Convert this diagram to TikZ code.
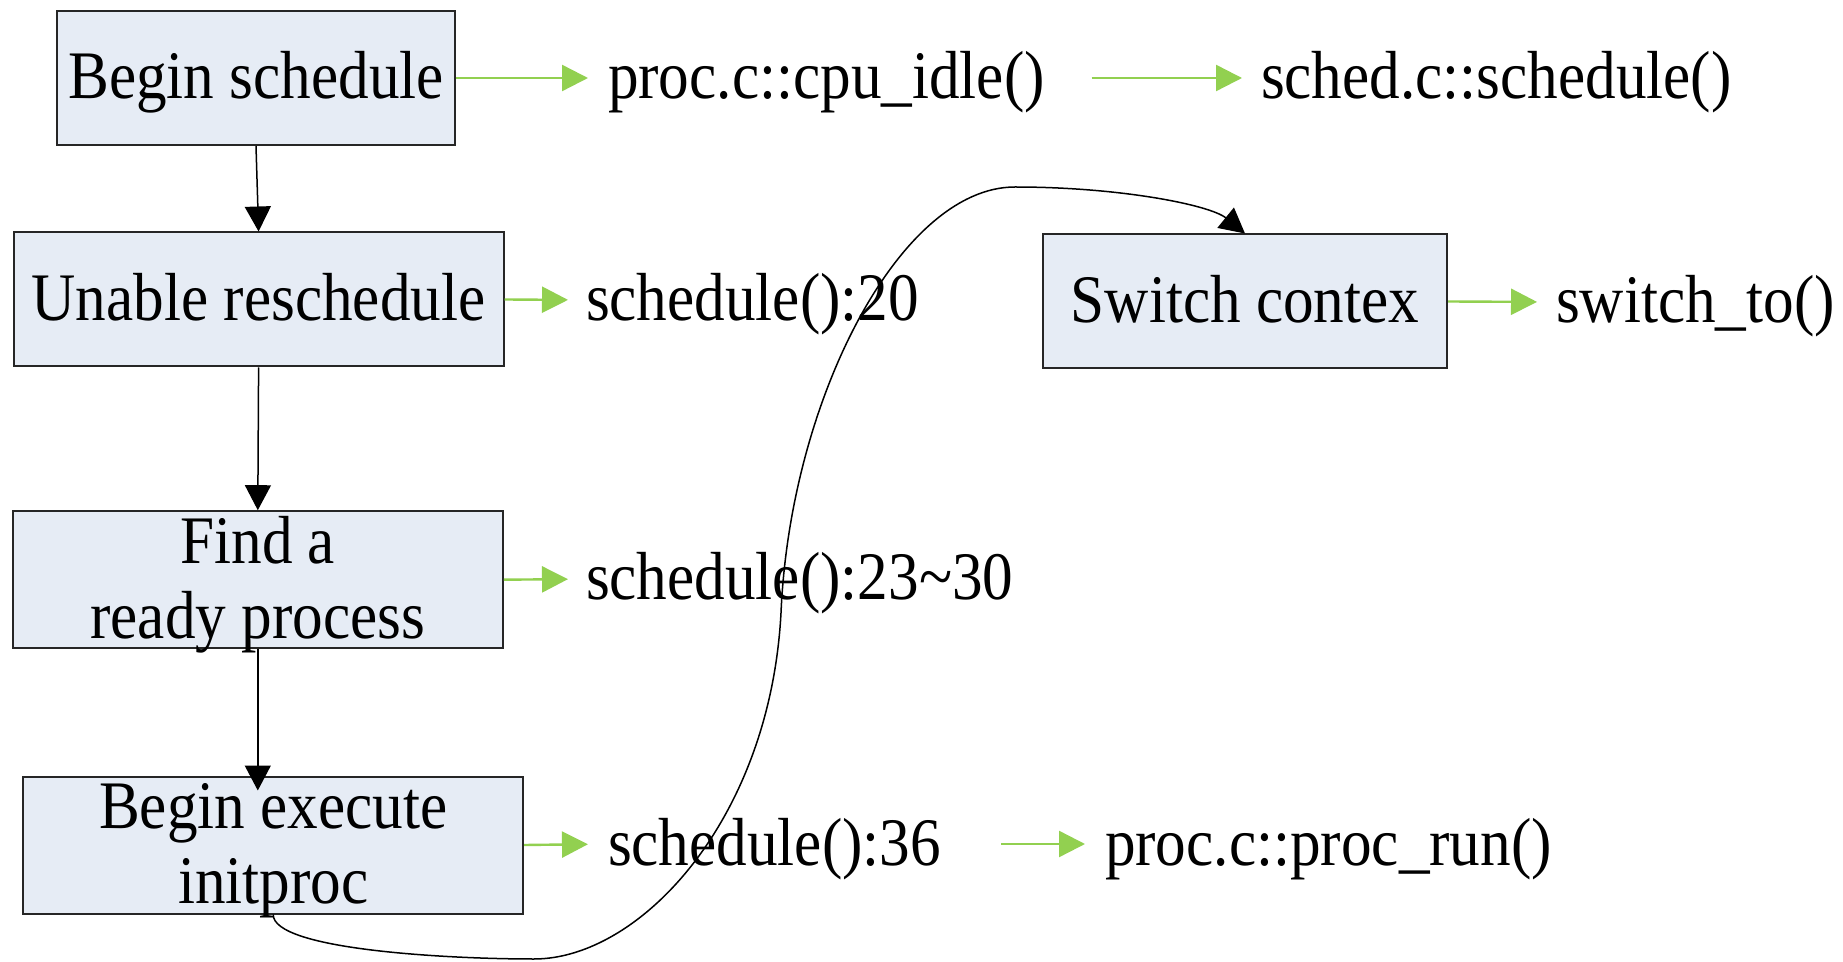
\documentclass[tikz,border=0pt]{standalone}
\usepackage{fontspec}
\setmainfont[FakeStretch=0.9]{Liberation Serif}
\usepackage{xcolor}
\usetikzlibrary{arrows.meta}

\definecolor{boxFill}{RGB}{230,236,245}
\definecolor{boxLine}{gray}{0.15}
\definecolor{callColor}{RGB}{146,208,80}

\begin{document}
\begin{tikzpicture}[x=0.5pt,y=-0.5pt,
  stepbox/.style={draw=boxLine,fill=boxFill,line width=1pt,inner sep=2pt,
    minimum height=67pt,font=\fontsize{34}{37.5}\selectfont,
    text height=24pt,text depth=3pt},
  twoline/.style={align=center,text height=61.5pt,text depth=3pt},
  callname/.style={anchor=west,inner sep=0pt,outer sep=0pt,
    font=\fontsize{34}{37.5}\selectfont,text height=24pt,text depth=3pt},
  flow/.style={draw=black,line width=0.75pt,-{Triangle[length=12.5pt,width=13pt]}},
  call/.style={draw=callColor,line width=1.2pt,-{Triangle[length=13pt,width=13pt]}}]
\path[use as bounding box,fill=white] (0,0) rectangle (1843,962);

\node[stepbox,minimum width=199pt] (bs) at (256,78) {Begin schedule};

\node[stepbox,minimum width=245pt] (un) at (258.6,299.5) {Unable reschedule};

\node[stepbox,twoline,minimum width=245pt] (fr) at (257.8,579.7) {Find a\\ready process};

\node[stepbox,twoline,minimum width=250pt] (ex) at (273.2,845) {Begin execute\\initproc};

\node[stepbox,minimum width=202pt] (sw) at (1245,301.5) {Switch contex};

\node[callname] (idle) at (608,78) {proc.c::cpu\_idle()};

\node[callname] (sched) at (1261,78) {sched.c::schedule()};

\node[callname] (sc20) at (586,300) {schedule():20};

\node[callname] (swto) at (1556,302) {switch\_to()};

\node[callname] (sc23) at (586,579) {schedule():23\textasciitilde30};

\node[callname] (sc36) at (608,844) {schedule():36};

\node[callname] (run) at (1105,844) {proc.c::proc\_run()};

\draw[flow] (bs.south) -- (un.north);

\draw[flow] (un.south) -- (fr.north);

\draw[flow] (fr.south) -- ([yshift=-7.5pt]fr.south |- ex.north);

\draw[flow] (ex.south) .. controls (273,950) and (450,959) .. (534,959)
	.. controls (640,959) and (770,820) .. (781,613)
	.. controls (790,400) and (900,187) .. (1015,187)
	.. controls (1120,187) and (1210,205) .. (sw.north);

\draw[call,shorten >=10pt] (bs.east) -- (idle.west);

\draw[call,shorten <=23.5pt,shorten >=9.5pt] (idle.east) -- (sched.west);

\draw[call,shorten >=9pt] (un.east) -- (sc20.west);

\draw[call,shorten >=9.5pt] (sw.east) -- (swto.west);

\draw[call,shorten >=9pt] (fr.east) -- (sc23.west);

\draw[call,shorten >=10pt] (ex.east) -- (sc36.west);

\draw[call,shorten <=30pt,shorten >=10pt] (sc36.east) -- (run.west);
\end{tikzpicture}
\end{document}
